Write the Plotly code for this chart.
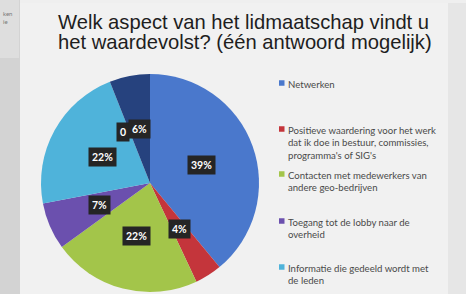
import math
import plotly.graph_objects as go

# ---- data ----
categories = [
    "Netwerken",
    "Positieve waardering voor het werk dat ik doe in bestuur, commissies, programma's of SIG's",
    "Contacten met medewerkers van andere geo-bedrijven",
    "Toegang tot de lobby naar de overheid",
    "Informatie die gedeeld wordt met de leden",
    "Geen",
    "Anders",
]
values = [39, 4, 22, 7, 22, 0, 6]
legend_labels = [
    "Netwerken",
    "Positieve waardering voor het werk<br>dat ik doe in bestuur, commissies,<br>programma's of SIG's",
    "Contacten met medewerkers van<br>andere geo-bedrijven",
    "Toegang tot de lobby naar de<br>overheid",
    "Informatie die gedeeld wordt met<br>de leden",
]
colors = ["#4a78cc", "#c4353b", "#a3c54a", "#6b50ae", "#4fb3da", "#26427e", "#26427e"]
title_lines = ["Welk aspect van het lidmaatschap vindt u",
               "het waardevolst? (één antwoord mogelijk)"]

# ---- layout geometry (pixels) ----
W, H = 466, 294
CX, CY, R = 150, 183, 109
legend_y = [83, 129, 174, 221, 267]

def px(x):
    return x / W

def py(y):
    return (H - y) / H

fig = go.Figure()
fig.add_trace(go.Pie(
    labels=categories,
    values=values,
    sort=False,
    direction="clockwise",
    rotation=0,
    marker=dict(colors=colors, line=dict(width=0)),
    textinfo="none",
    hoverinfo="label+percent",
    showlegend=False,
    domain=dict(x=[px(CX - R), px(CX + R)], y=[py(CY + R), py(CY - R)]),
))

annotations = []
shapes = []

# background pieces (photo of slide)
shapes.append(dict(type="rect", xref="paper", yref="paper", x0=0, x1=px(20), y0=0, y1=1,
                   fillcolor="#d3d3d3", line=dict(width=0), layer="below"))
shapes.append(dict(type="rect", xref="paper", yref="paper", x0=0, x1=px(19), y0=py(58), y1=1,
                   fillcolor="#dedede", line=dict(width=0), layer="below"))
shapes.append(dict(type="rect", xref="paper", yref="paper", x0=px(20), x1=1, y0=0, y1=py(3),
                   fillcolor="#f1f1f1", line=dict(width=0), layer="below"))
shapes.append(dict(type="rect", xref="paper", yref="paper", x0=px(448), x1=1, y0=0, y1=py(3),
                   fillcolor="#e6e6e6", line=dict(width=0), layer="below"))
annotations.append(dict(text="ken<br>ie", xref="paper", yref="paper", x=px(1), y=py(8),
                        xanchor="left", yanchor="top", showarrow=False, align="left",
                        font=dict(family="Lato", size=6, color="#777")))

# title
for i, line in enumerate(title_lines):
    annotations.append(dict(text=line, xref="paper", yref="paper", x=px(56), y=py(22 + 19.5 * i),
                            xanchor="left", yanchor="middle", showarrow=False,
                            font=dict(family="Liberation Sans", size=20.2, color="#1e1e1e")))

# slice labels
total = sum(values)
cum = 0
for v in values:
    theta = 2 * math.pi * (cum + v / 2) / total
    cum += v
    x = px(CX + 0.5 * R * math.sin(theta))
    y = py(CY - 0.5 * R * math.cos(theta))
    ann = dict(text="<b>%d%%</b>" % round(100 * v / total) if v else "<b>0</b>",
               xref="paper", yref="paper", x=x, y=y, showarrow=False,
               xanchor="center", yanchor="middle",
               font=dict(family="Lato", size=10.5, color="white"),
               bgcolor="#252525", borderpad=3)
    if v == 0:
        ann.update(xanchor="right", xshift=0)
    annotations.append(ann)

# custom legend (first five categories visible)
for lab, col, ly in zip(legend_labels, colors, legend_y):
    shapes.append(dict(type="rect", xref="paper", yref="paper",
                       x0=px(279), x1=px(284.5), y0=py(ly + 2.75), y1=py(ly - 2.75),
                       fillcolor=col, line=dict(width=0)))
    annotations.append(dict(text=lab, xref="paper", yref="paper", x=px(286), y=py(ly - 6.5),
                            xanchor="left", yanchor="top", align="left", showarrow=False,
                            font=dict(family="Lato", size=9.6, color="#4a4a4a")))

fig.update_layout(
    width=W, height=H,
    margin=dict(l=0, r=0, t=0, b=0),
    paper_bgcolor="#efefef",
    plot_bgcolor="#efefef",
    annotations=annotations,
    shapes=shapes,
)

fig.write_html("out.html", config={"displayModeBar": False},
               post_script="document.body.style.margin='0';document.body.style.overflow='hidden';")
